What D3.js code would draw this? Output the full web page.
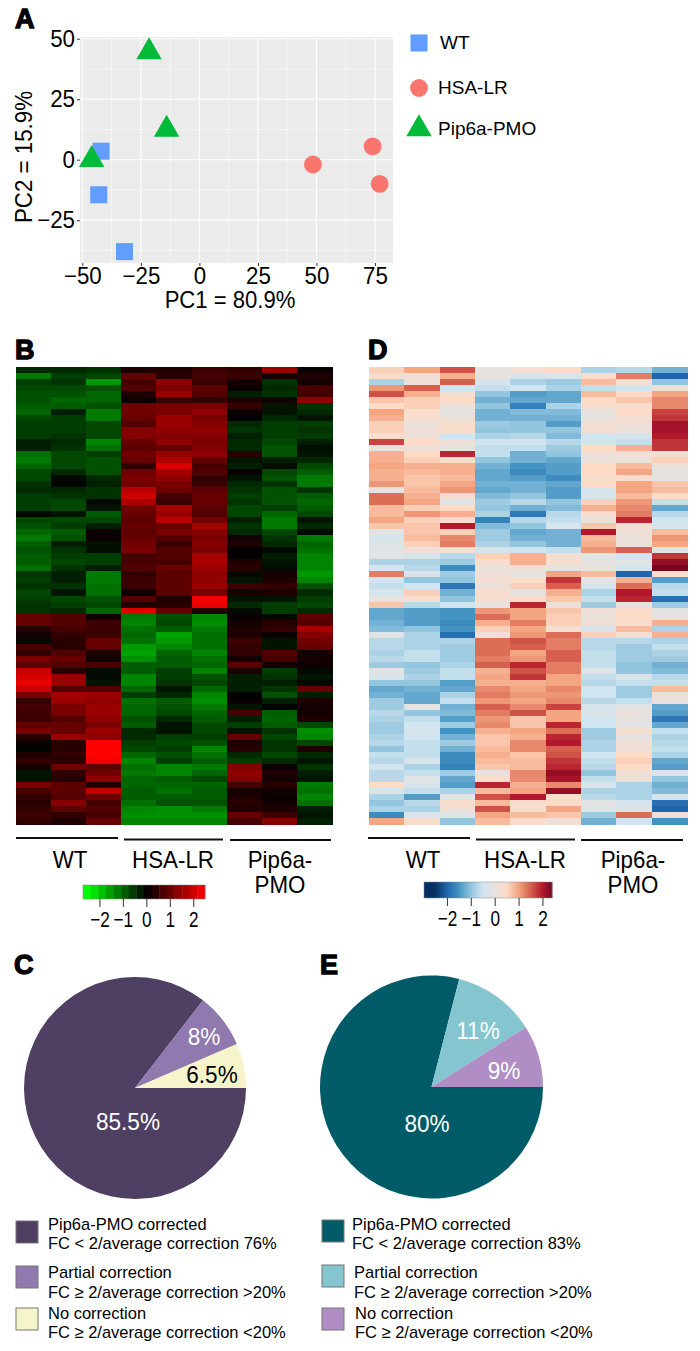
<!DOCTYPE html>
<html><head><meta charset="utf-8">
<script src="https://cdn.jsdelivr.net/npm/d3@7/dist/d3.min.js"></script>
<style>html,body{margin:0;padding:0;background:#fff}svg{display:block}text{font-family:"Liberation Sans",Arial,sans-serif}</style>
</head><body><svg id="c" width="700" height="1351"></svg>
<script>
// Panel A
const groups=["WT","HSA-LR","Pip6a-PMO"];
const pcaGroup=["WT","WT","WT","HSA-LR","HSA-LR","HSA-LR","Pip6a-PMO","Pip6a-PMO","Pip6a-PMO"];
const pc1=[-42,-43,-32,48.5,74,77,-21.5,-14,-46];
const pc2=[3.5,-14.5,-38,-2,5.5,-10,44.5,12.5,0];
const xTicks=[-50,-25,0,25,50,75];
const yTicks=[-25,0,25,50];
const groupColors=["#619CFF","#F8766D","#00BA38"];
// Panel B heatmap columns (row z-scores)
const b1=[-0.4,-1.2,-0.6,-0.7,-0.8,-0.8,-0.9,-1.0,-0.7,-0.6,-0.6,-0.6,-0.3,-0.3,-1.1,-1.2,-1.0,-0.7,-0.7,-0.5,-0.4,-0.6,-0.6,-0.6,-0.1,-0.7,-0.8,-1.0,-1.2,-0.9,-0.8,-0.9,-0.9,-1.1,-0.5,-0.6,-0.5,-0.7,-0.6,-0.5,-0.5,1.0,1.0,0.4,0.2,-0.1,0.7,0.5,1.2,0.9,2.0,2.1,2.3,2.0,1.2,0.5,0.7,0.6,0.6,1.0,1.2,0.4,0.1,-0.05,0.3,0.5,0.2,-0.2,-0.2,1.2,0.7,0.5,0.4,0.5,0.6,0.5];
const b2=[-0.4,-0.6,-0.5,-0.7,-0.8,-1.0,-0.9,-0.3,-0.6,-0.6,-0.6,-0.5,-0.4,-0.5,-0.7,-0.7,-0.7,-0.4,-0.1,-0.05,-0.4,-0.5,-0.7,-0.7,-0.2,-0.7,-0.6,-0.9,-0.8,-0.3,-0.5,-0.6,-0.7,-0.5,-0.3,-0.3,-0.5,-0.2,-0.7,-0.6,-0.4,0.8,0.8,0.7,0.5,0.4,0.4,0.8,1.0,0.8,0.4,1.5,1.5,0.8,1.6,1.5,1.2,1.2,0.8,1.0,1.0,1.5,0.4,0.4,0.5,0.4,1.1,0.5,0.4,0.9,0.9,0.8,1.3,0.9,0.5,0.3];
const b3=[-0.5,-0.7,-1.5,-0.8,-1.0,-1.0,-0.8,-1.2,-1.2,-0.7,-0.7,-0.7,-1.3,-1.1,-0.6,-0.8,-0.8,-0.8,-0.4,-0.3,-0.5,-0.5,-0.1,-0.2,-0.9,-0.7,-0.3,0.1,0.1,-0.15,-0.15,-0.6,-0.6,-0.3,-1.2,-1.2,-1.1,-1.1,-0.8,-0.7,-1.0,0.15,0.6,0.6,0.6,1.0,1.0,0.3,0.2,0.7,-0.1,-0.1,-0.2,0.8,1.5,1.4,1.5,1.5,1.4,1.2,1.5,1.4,2.5,2.5,2.5,2.4,0.9,1.1,1.4,0.3,1.9,1.1,0.7,0.8,0.7,1.0];
const b4=[0.3,1.0,0.7,0.8,0.3,0.15,1.1,1.1,1.0,0.8,1.3,1.3,1.0,0.9,1.1,1.0,0.5,1.1,1.2,1.1,1.8,2.0,1.7,1.1,1.0,0.9,1.0,0.9,1.0,1.1,1.2,0.7,0.7,0.8,0.5,0.6,0.6,0.15,0.8,0.3,2.2,-1.2,-1.3,-1.1,-1.0,-1.1,-1.5,-1.6,-1.4,-0.9,-0.9,-1.3,-1.3,-1.0,-0.6,-1.1,-1.0,-1.0,-0.8,-0.9,-0.4,-0.4,-0.6,-0.7,-1.0,-1.3,-1.1,-1.2,-1.0,-1.0,-0.9,-0.9,-1.1,-1.3,-1.4,-1.3];
const b5=[0.3,0.4,1.4,1.2,1.5,0.6,1.2,1.2,1.5,1.5,1.4,1.3,1.4,1.0,1.5,1.7,2.1,1.6,1.4,1.2,1.1,0.7,0.6,1.6,1.5,1.8,1.0,1.2,0.8,0.6,0.8,0.8,0.7,1.0,0.9,0.9,0.9,0.9,0.3,0.4,1.0,-0.8,-0.7,-0.9,-1.6,-1.5,-1.3,-1.0,-0.9,-0.9,-0.6,-0.6,-0.5,-0.2,-0.4,-0.9,-0.8,-0.7,-0.4,-0.2,-0.2,-0.6,-0.7,-0.6,-0.8,-0.6,-1.3,-1.3,-0.9,-1.0,-1.1,-0.9,-0.8,-1.4,-1.4,-1.3];
const b6=[0.6,0.7,0.6,0.9,0.8,0.5,1.2,1.4,1.2,1.3,1.4,1.3,1.2,1.3,1.4,1.0,0.7,0.8,0.5,0.6,0.9,1.0,1.0,0.9,0.8,1.1,1.6,1.3,1.2,1.3,1.2,1.6,1.7,1.5,1.4,1.4,1.5,1.2,2.4,2.3,0.3,-1.3,-1.4,-1.2,-1.1,-1.1,-1.1,-1.3,-1.1,-1.0,-1.3,-0.8,-0.7,-1.0,-1.3,-1.4,-1.2,-1.0,-0.9,-0.7,-0.7,-0.6,-0.8,-1.3,-1.1,-0.9,-1.2,-1.0,-0.7,-1.0,-0.9,-0.9,-0.8,-1.2,-1.4,-1.3];
const b7=[0.5,0.6,0.2,0.1,-0.3,0.3,0.5,0.1,0.0,-0.4,-0.5,-0.3,-0.4,-0.4,0.4,-0.2,-0.3,0.05,-0.2,-0.4,-0.5,-0.6,-0.5,-0.7,-0.7,-0.3,-0.5,-0.4,0.2,0.3,0.05,0.05,0.3,0.4,-0.1,-0.2,0.6,0.2,-0.2,-0.4,-0.1,0.1,0.2,0.3,0.3,0.6,0.5,0.5,0.2,0.9,0.3,-0.3,-0.3,-0.3,0.0,0.1,-0.2,0.7,-0.3,-0.6,-0.2,1.0,0.3,0.4,-0.4,-0.6,1.3,1.4,1.3,0.7,0.2,0.3,0.4,0.3,1.0,0.7];
const b8=[1.5,0.2,-0.5,-0.4,-0.5,0.2,-0.2,-0.2,-0.4,-0.6,-0.6,-0.6,-0.7,-0.8,-0.8,-0.3,-0.15,-0.7,-0.8,-0.5,-0.8,-0.8,-0.8,-0.6,-1.0,-1.2,-1.2,-0.7,-0.5,-0.4,-0.1,-0.3,-0.2,-0.1,0.2,0.3,0.5,0.3,-0.2,-0.6,-0.6,-0.1,0.4,0.5,0.1,-0.2,-0.2,0.8,0.7,0.2,-0.6,-0.5,-0.3,-0.5,-0.8,-0.3,0.0,-0.9,-1.0,-0.9,-0.5,-0.7,-0.5,-0.5,-0.7,-0.4,0.1,0.3,0.2,0.4,0.2,0.1,0.2,0.3,0.6,1.3];
const b9=[0.1,0.3,0.2,0.7,0.7,1.4,-0.5,-0.4,-0.2,-0.6,-0.5,-0.6,-0.3,-0.15,-0.2,-0.4,-0.7,-0.9,-1.2,-1.2,-0.5,-0.9,-1.0,-0.9,-0.7,-0.2,-0.4,-0.1,-1.2,-1.0,-1.1,-1.3,-1.3,-1.3,-1.5,-1.3,-0.8,-0.4,-0.6,-0.7,-0.4,0.9,0.8,1.6,1.3,1.1,1.0,0.2,0.2,0.15,-0.1,-0.2,-0.1,1.0,-0.3,0.3,0.2,0.2,0.3,-0.7,-1.4,-1.3,-0.7,0.3,-0.4,-0.2,-0.5,-0.3,-0.2,-1.2,-1.1,-1.3,-1.1,-0.3,-0.2,-0.3];
// Panel D heatmap columns
const d1=[0.6,0.4,-0.8,1.1,1.6,0.7,0.5,1.0,0.9,0.6,0.6,0.4,1.7,0.1,0.9,0.9,1.0,0.9,0.9,1.1,0.0,1.4,1.4,0.8,0.8,1.0,0.7,-0.1,-0.4,-0.2,-0.2,-0.1,-0.8,-0.4,1.3,-0.5,-0.6,-0.4,0,0.7,-1.3,-1.3,-1.2,-1.1,-0.2,-0.7,-0.7,-0.8,-0.7,-0.9,-0.1,-0.3,-1.0,-1.3,-1.2,-0.9,-0.9,-0.7,-0.8,-0.9,-0.9,-0.8,-0.7,-1.0,-0.6,-0.7,-0.5,-0.7,-0.7,0.5,-0.3,-0.8,-1.0,-0.8,-1.6,1.0];
const d2=[1.0,0.2,0.2,1.5,0.9,0.6,0.6,0.4,0.4,0.1,0.2,0.2,0.5,0.2,0.5,0.6,0.9,0.8,0.7,0.7,0.8,0.9,1.0,0.6,1.1,0.6,0.7,0.7,0.8,0.6,0.2,-0.3,-0.8,-0.7,-0.3,-1.0,-0.5,0.6,0.4,-0.7,-1.4,-1.4,-1.4,-1.0,-0.8,-0.8,-0.8,-0.6,-0.6,-1.0,-0.9,-0.8,-1.0,-1.2,-1.3,-1.3,-0.1,-1.0,-0.6,-0.5,-0.4,-0.5,-0.6,-0.6,-0.6,-0.3,-0.8,-0.6,-0.1,-0.3,-0.6,-1.4,-0.7,-0.8,-0.3,0.4];
const d3c=[1.6,0.9,1.5,-0.5,0.3,0.5,0.1,0.0,0.1,0.4,0.4,-0.5,0.2,0.0,1.9,0.4,0.9,0.9,0.8,1.0,1.1,0.3,-0.1,0.5,0.9,0.4,2.0,0.6,1.2,1.3,0.2,-0.7,-0.9,-1.6,-0.9,-1.0,-1.8,-1.2,-1.0,-0.5,-1.5,-1.5,-1.6,-1.5,-1.9,-0.8,-0.9,-0.9,-0.9,-0.8,-0.6,-0.6,-1.4,-1.3,-0.8,-0.6,-1.2,-1.1,-1.4,-0.9,-1.5,-1.2,-0.9,-1.2,-1.6,-1.6,-1.7,-0.9,-1.3,-1.4,-0.8,-0.1,0.4,0.2,-0.2,-1.0];
const d4=[0,0.1,-0.4,-0.6,-1.0,-1.2,-1.0,-1.2,-1.2,-0.9,-1.0,-0.8,-0.5,-0.6,-0.6,-1.0,-1.2,-1.3,-1.3,-1.2,-1.3,-1.1,-0.9,-1.0,-0.8,-1.7,-1.1,-0.9,-0.9,-0.8,-0.3,0.6,0.4,0.1,0.2,0.3,0.1,0.4,0.3,0,1.1,1.4,0.9,0.6,0.2,1.4,1.4,1.4,1.3,1.5,0.9,1.0,0.9,1.2,1.3,1.1,1.5,1.3,1.1,1.2,0.9,0.7,0.7,0.8,0.9,0.8,0.7,0,0.4,1.9,0.8,1.6,0.8,1.6,1.0,0.8];
const d5=[0.3,-0.3,-0.8,-0.5,-1.4,-1.3,-1.7,-1.1,-1.2,-1.0,-1.0,-0.7,-0.5,-0.6,-1.2,-1.2,-1.5,-1.6,-1.4,-1.2,-1.2,-1.0,-0.7,-1.2,-1.8,-0.7,-1.0,-1.3,-1.2,-1.0,-0.5,0.9,0.9,0.2,0.0,0.4,0.6,0.0,0.5,1.9,1.0,1.0,1.3,1.0,1.1,1.6,1.5,1.0,1.1,1.9,1.6,1.8,0.9,1.0,1.1,1.0,1.2,1.6,0.7,0.7,1.0,0.9,1.2,1.2,0.7,0.8,0.8,1.2,1.2,0.9,1.0,2.0,0.4,0.4,0.8,0.4];
const d6=[0.5,-0.3,-0.9,-0.8,-1.3,-1.3,-0.8,-1.1,-1.2,-1.4,-1.0,-1.1,-0.7,-0.9,-1.0,-1.3,-1.4,-1.4,-1.6,-1.3,-1.4,-1.4,-1.0,-1.1,-0.7,-0.6,-0.4,-1.2,-1.2,-1.2,-0.6,0.3,0.4,0,1.0,1.8,1.5,0.9,0.7,0.1,0.7,0.6,0.6,0.3,1.4,1.3,1.3,1.5,1.5,1.3,1.3,1.0,1.0,1.2,1.1,1.2,1.7,1.0,1.0,1.9,1.4,1.9,2.0,1.5,1.6,1.8,1.9,2.2,2.1,1.2,2.2,0.4,0.5,1.0,0.7,0.2];
const d7=[-0.8,0.5,0.8,-0.6,0.8,0.5,0.4,0,0,0.3,0.3,-0.5,-0.3,0.5,0.2,0.1,0.5,0.5,0.4,0.5,-0.4,-0.3,0.6,0.9,0.4,0.1,0.7,2.0,0.8,0.9,1.1,-0.1,0.0,0.1,0.8,0.0,-0.4,-0.8,-0.6,-0.9,0.2,0.1,0.2,-0.3,0.6,-0.7,-0.7,-0.6,-0.6,-0.6,-0.2,-0.6,-0.7,-0.5,-0.5,-0.7,-0.4,-0.3,-0.5,-0.5,-0.9,-0.9,-0.8,-0.8,-0.5,-0.6,-0.7,-1.0,-0.6,-0.3,-0.8,-0.7,-0.1,-0.2,-0.9,-1.2];
const d8=[-0.7,1.3,0.2,-0.5,0.5,0.7,0.4,0.5,0.3,0.2,0.1,-0.4,-0.6,0.9,0.2,0.1,0.8,1.0,0.4,1.0,1.0,0.8,1.1,1.2,1.3,1.9,0.3,0.2,0.1,0.1,1.5,-0.5,-0.1,-0.5,-2.0,0.9,1.4,2.0,1.9,0.0,0.4,0.5,0.4,0.8,0.2,-0.7,-0.9,-0.9,-0.9,-1.0,-1.0,-0.3,-0.6,-0.9,-0.9,-0.6,-0.1,0.1,0,-0.1,0.3,0,0.2,0.2,0.5,0.6,0.5,0.2,0.1,-0.8,-0.8,-0.8,-0.4,-0.2,1.4,-0.5];
const d9=[-1.2,-2.0,-1.0,0.2,1.0,1.2,1.2,1.7,1.8,2.1,2.1,2.0,1.8,1.8,0.3,0.6,0.1,0,0,0.7,0.8,0.5,-0.6,-1.3,-0.7,-0.5,-0.4,0.8,1.1,1.0,-0.2,1.8,2.2,2.4,0.4,-1.4,-0.7,-0.6,-1.9,-0.9,0,0.0,0.9,-0.8,0.9,-0.8,-0.6,-0.8,-0.9,-1.2,-1.1,-0.7,-0.6,0.8,0.1,0.1,-1.3,-1.4,-1.8,-1.3,-0.6,-0.8,-0.7,-0.6,-0.8,-1.3,-1.4,-0.3,-1.0,-1.2,-1.1,-0.3,-1.9,-2.0,0.2,-1.5];
const bColumns=[b1,b2,b3,b4,b5,b6,b7,b8,b9];
const dColumns=[d1,d2,d3c,d4,d5,d6,d7,d8,d9];
const colorTicks=[-2,-1,0,1,2];
const greenRedStops=[-2.5,0,2.5], greenRedColors=["#00ff00","#000000","#ff0000"];
const rdBuStops=[-2.5,-2,-1.5,-1,-0.5,0,0.5,1,1.5,2,2.5];
const rdBuColors=["#053061","#2166ac","#4393c3","#92c5de","#d1e5f0","#e6e2e0","#fddbc7","#f4a582","#d6604d","#b2182b","#67001f"];
// Pies
const pieCLabels=["85.5%","8%","6.5%"], pieCValues=[85.5,8,6.5], pieCColors=["#4f3f63","#9079ae","#f5f4cb"];
const pieELabels=["80%","11%","9%"], pieEValues=[79,12,9], pieEColors=["#005b68","#84c5cf","#b08dc5"];
const legendTitles=["Pip6a-PMO corrected","Partial correction","No correction"];
const legendCSub=["FC < 2/average correction 76%","FC ≥ 2/average correction >20%","FC ≥ 2/average correction <20%"];
const legendESub=["FC < 2/average correction 83%","FC ≥ 2/average correction >20%","FC ≥ 2/average correction <20%"];

const svg=d3.select("#c");
const F='"Liberation Sans",Arial,sans-serif';
// reference type is tall and narrow: squeeze glyphs horizontally
function narrow(sel,f){sel.each(function(){const L=this.getComputedTextLength();d3.select(this).attr("textLength",L*f).attr("lengthAdjust","spacingAndGlyphs");});return sel;}
function letter(t,x,y){svg.append("text").attr("x",x).attr("y",y).text(t).attr("font-size",27).attr("font-weight",700).attr("stroke","#000").attr("stroke-width",1.3).attr("fill","#000");}
[["A",15,28],["B",15,359],["D",368,359],["C",14,974],["E",320,974]].forEach(d=>letter(...d));

// A
const x=d3.scaleLinear().domain([-51,82.7]).range([80,393]);
const y=d3.scaleLinear().domain([-42.7,50.7]).range([263,37]);
const pA=svg.append("g");
pA.append("rect").attr("x",x.range()[0]).attr("y",y.range()[1]).attr("width",x.range()[1]-x.range()[0]).attr("height",y.range()[0]-y.range()[1]).attr("fill","#ebebeb");
xTicks.forEach((t,i)=>{pA.append("line").attr("x1",x(t)).attr("x2",x(t)).attr("y1",37).attr("y2",263).attr("stroke","#fff").attr("stroke-width",1.1);
 if(i<xTicks.length-1)pA.append("line").attr("x1",x((t+xTicks[i+1])/2)).attr("x2",x((t+xTicks[i+1])/2)).attr("y1",37).attr("y2",263).attr("stroke","#fff").attr("stroke-width",.5);});
[-37.5,-12.5,12.5,37.5].forEach(t=>pA.append("line").attr("x1",80).attr("x2",393).attr("y1",y(t)).attr("y2",y(t)).attr("stroke","#fff").attr("stroke-width",.5));
yTicks.forEach(t=>pA.append("line").attr("x1",80).attr("x2",393).attr("y1",y(t)).attr("y2",y(t)).attr("stroke","#fff").attr("stroke-width",1.1));
const ax=svg.append("g").attr("transform","translate(0,263)").call(d3.axisBottom(x).tickValues(xTicks).tickSize(3).tickPadding(2));
const ay=svg.append("g").attr("transform","translate(80,0)").call(d3.axisLeft(y).tickValues([...yTicks]).tickSize(3).tickPadding(2));
[ax,ay].forEach(a=>{a.select(".domain").remove();narrow(a.selectAll("text").attr("font-family",F).attr("font-size",23).attr("fill","#000"),.97);a.selectAll("line").attr("stroke","#333");});
narrow(svg.append("text").attr("x",230).attr("y",308).attr("text-anchor","middle").attr("font-size",23).text("PC1 = 80.9%"),.96);
narrow(svg.append("text").attr("transform","translate(32,157) rotate(-90)").attr("text-anchor","middle").attr("font-size",23).text("PC2 = 15.9%"),.97);
const sym={"WT":d3.symbolSquare,"HSA-LR":d3.symbolCircle,"Pip6a-PMO":d3.symbolTriangle};
const size={"WT":290,"HSA-LR":250,"Pip6a-PMO":280};
const col=d3.scaleOrdinal(groups,groupColors);
const symPath=g=>d3.symbol().type(sym[g]).size(size[g])();
svg.append("g").selectAll("path").data(pc1.map((v,i)=>({x:v,y:pc2[i],g:pcaGroup[i]}))).join("path")
 .attr("d",d=>symPath(d.g)).attr("fill",d=>col(d.g)).attr("transform",d=>`translate(${x(d.x)},${y(d.y)})`);
const legY=[43,88,129],legX=[440,438,438];
groups.forEach((g,i)=>{svg.append("path").attr("d",symPath(g)).attr("fill",col(g)).attr("transform",`translate(419,${legY[i]})`);
 svg.append("text").attr("x",legX[i]).attr("y",legY[i]+6).attr("font-size",19).text(g);});

// heatmaps
function heat(cols,color,x0,x1,y0,y1){
 const rows=d3.range(cols[0].length);
 const cx=d3.scaleBand().domain(d3.range(cols.length)).range([x0,x1]);
 const cy=d3.scaleBand().domain(rows).range([y0,y1]);
 const g=svg.append("g").attr("shape-rendering","crispEdges");
 cols.forEach((c,i)=>g.selectAll(null).data(c).join("rect").attr("x",cx(i)).attr("width",cx.bandwidth()+.5)
  .attr("y",(d,r)=>cy(r)).attr("height",cy.bandwidth()+.5).attr("fill",d=>color(d)));
}
const grn=d3.scaleLinear().domain(greenRedStops).range(greenRedColors).clamp(true);
const rdb=d3.scaleLinear().domain(rdBuStops).range(rdBuColors).clamp(true);
heat(bColumns,grn,16,332,367,824);
heat(dColumns,rdb,369,687,367,824);

// brackets
function bracket(x1,x2,yy){svg.append("line").attr("x1",x1).attr("x2",x2).attr("y1",yy).attr("y2",yy).attr("stroke","#111").attr("stroke-width",2);}
[[16,118,838],[124,223,839.5],[230,331,840],[368,470,838],[476,575,839.5],[581,683,840]].forEach(d=>bracket(...d));
function lab(t,xx,yy){narrow(svg.append("text").attr("x",xx).attr("y",yy).attr("text-anchor","middle").attr("font-size",24).text(t),.93);}
[["WT",70,868],["HSA-LR",173,868],["Pip6a-",280,868],["PMO",280,893],["WT",423,868],["HSA-LR",525,868],["Pip6a-",633,868],["PMO",633,893]].forEach(d=>lab(...d));

// colorbars
function bar(color,scale,yy,h,steps){
 const [a,b]=scale.domain();const n=steps;
 const g=svg.append("g");
 const band=d3.scaleBand().domain(d3.range(n)).range(scale.range());
 g.selectAll("rect").data(d3.range(n)).join("rect").attr("x",i=>band(i)).attr("y",yy).attr("width",band.bandwidth()+.4).attr("height",h).attr("fill",i=>color(a+(b-a)*(i+.5)/n));
 g.append("rect").attr("x",scale.range()[0]).attr("y",yy).attr("width",scale.range()[1]-scale.range()[0]).attr("height",h).attr("fill","none").attr("stroke","#888").attr("stroke-width",.5);
 const ax=svg.append("g").attr("transform",`translate(0,${yy+h})`).call(d3.axisBottom(scale).tickValues(colorTicks).tickSize(8).tickPadding(4).tickFormat(d3.format("d")));
 ax.select(".domain").remove();ax.selectAll("line").attr("stroke","#333");narrow(ax.selectAll("text").attr("font-family",F).attr("font-size",22).attr("fill","#000"),.78);
}
bar(grn,d3.scaleLinear().domain([-2.7,2.5]).range([83,205]),885,14,16);
bar(rdb,d3.scaleLinear().domain([-2.96,2.4]).range([424,552]),882,16,64);

// pies
function pie(vals,cols,labels,cx,cy,r,pos,txt){
 const arcs=d3.pie().sort(null).startAngle(Math.PI/2).endAngle(Math.PI*2.5)(vals);
 const arc=d3.arc().innerRadius(0).outerRadius(r);
 const g=svg.append("g").attr("transform",`translate(${cx},${cy})`);
 g.selectAll("path").data(arcs).join("path").attr("d",arc).attr("fill",(d,i)=>cols[i]);
 labels.forEach((t,i)=>narrow(svg.append("text").attr("x",pos[i][0]).attr("y",pos[i][1]).attr("text-anchor","middle").attr("font-size",24).attr("fill",txt[i]).text(t),.94));
}
pie(pieCValues,pieCColors,pieCLabels,135,1088,111,[[128,1130],[204,1045],[212,1083]],["#fff","#fff","#000"]);
pie(pieEValues,pieEColors,pieELabels,431.5,1087,111.5,[[427,1132],[478,1039],[504,1079]],["#fff","#fff","#fff"]);

// legends
function leg(x0,tx,ys,cols,subs){
 ys.forEach((yy,i)=>{svg.append("rect").attr("x",x0).attr("y",yy.s).attr("width",22).attr("height",22).attr("fill",cols[i]).attr("stroke","#777").attr("stroke-width",1);
  narrow(svg.append("text").attr("x",tx[i]).attr("y",yy.a).attr("font-size",17).text(legendTitles[i]),.97);
  narrow(svg.append("text").attr("x",tx[i]).attr("y",yy.b).attr("font-size",17).text(subs[i]),.97);});
}
leg(16,[48,48,48],[{s:1221,a:1230,b:1249},{s:1266,a:1278,b:1298},{s:1308,a:1319,b:1338}],pieCColors,legendCSub);
leg(322,[352,354,355],[{s:1220,a:1230,b:1249},{s:1265,a:1278,b:1298},{s:1308,a:1319,b:1338}],pieEColors,legendESub);
</script></body></html>
